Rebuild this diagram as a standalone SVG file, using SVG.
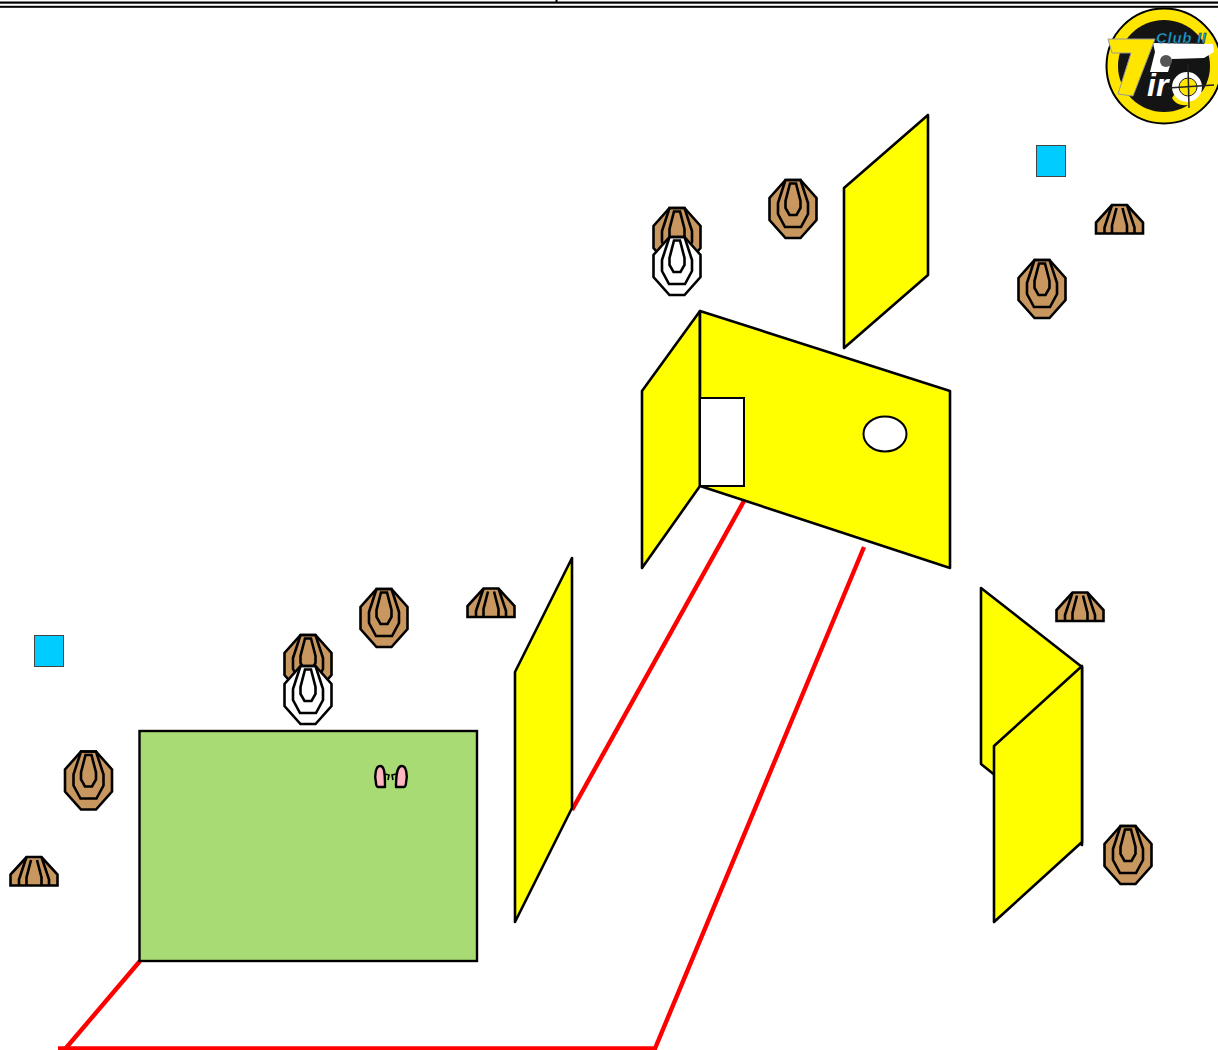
<svg xmlns="http://www.w3.org/2000/svg" width="1218" height="1050" viewBox="0 0 1218 1050">
<style>
.y{fill:#ff0;stroke:#000;stroke-width:2.6;stroke-linejoin:round}
.r{stroke:#f00;stroke-width:4.4;fill:none}
.t{stroke:#000;stroke-width:2.6;stroke-linejoin:miter}
.b{fill:#c8965f}.w{fill:#fff}
.c{fill:#00ccff;stroke:#444;stroke-width:1}
.n{fill:none}
.h{fill:#ffb6c1;stroke:#000;stroke-width:2.4;stroke-linejoin:round}
</style>
<defs>
<g id="ring"><polygon points="-7.500,-29 7.500,-29 23.500,-11 23.500,11 7.500,29 -7.500,29 -23.500,11 -23.500,-11"/><polygon class="n" points="-7.500,-29 7.500,-29 15,-6 15,5 8,18 -8,18 -15,5 -15,-6"/><polygon class="n" points="-3,-25.500 3,-25.500 7.500,-8 7.500,-1 3.500,6 -3.500,6 -7.500,-1 -7.500,-8"/></g>
<g id="half"><polygon points="-7.500,-28.500 7.500,-28.500 23.500,-11 23.500,0 -23.500,0 -23.500,-11"/><polyline class="n" points="-7.500,-28.500 -15,-6 -15,0"/><polyline class="n" points="7.500,-28.500 15,-6 15,0"/><polyline class="n" points="-3,-25.500 -7.500,-8 -7.500,0"/><polyline class="n" points="3,-25.500 7.500,-8 7.500,0"/></g>
</defs>
<g id="header"><rect x="0" y="1.500" width="1218" height="2.200" fill="#000"/><rect x="0" y="5.800" width="1218" height="2" fill="#000"/><rect x="555.500" y="0" width="2" height="2" fill="#000"/></g>
<g id="connectors">
<path class="r" d="M140,961 L66,1048"/>
<path class="r" d="M58,1048.500 L655,1048.500 L864,547"/>
<path class="r" d="M744,501 L572,810"/>
</g>
<g id="wall-top"><polygon class="y" points="844,188 928,115 928,275 844,348"/></g>
<g id="wall-house-side"><polygon class="y" points="642,391 700,311 700,486 642,568"/></g>
<g id="wall-house"><polygon class="y" points="700,311 950,391 950,568 700,486"/><rect x="700" y="398" width="44" height="88" fill="#fff" stroke="#000" stroke-width="2"/><ellipse cx="885" cy="434" rx="21.500" ry="17.500" fill="#fff" stroke="#000" stroke-width="2"/></g>
<g id="wall-mid"><polygon class="y" points="515,672 572,558 572,808 515,922"/></g>
<g id="wall-right-back"><polygon class="y" points="981,588 1082,667 1082,845 981,764"/></g>
<g id="wall-right-front"><polygon class="y" points="994,746 1082,666 1082,842 994,922"/></g>
<g id="green-area"><rect x="139.500" y="731" width="337.500" height="230" fill="#a9db74" stroke="#000" stroke-width="2.400"/></g>
<g id="hands">
<path class="h" d="M376,783 C374,775 376,766 380,766 C384,766 385,771 385,787 L378,787 C377,787 376,785 376,783 Z"/>
<path class="h" d="M406,783 C408,775 406,766 402,766 C398,766 396,771 396,787 L404,787 C405,787 406,785 406,783 Z"/>
<path d="M385,774 L389,775 L388,780 M396,774 L392,775 L393,780" fill="none" stroke="#000" stroke-width="1.600"/>
</g>
<g id="square-1"><rect class="c" x="1036.500" y="145.500" width="29" height="31"/></g>
<g id="square-2"><rect class="c" x="34.500" y="635.500" width="29" height="31"/></g>
<g id="target-1"><use href="#ring" x="793" y="209" class="t b"/></g>
<g id="target-2"><use href="#ring" x="677" y="237" class="t b"/></g>
<g id="target-3"><use href="#ring" x="1042" y="289" class="t b"/></g>
<g id="target-4"><use href="#ring" x="384" y="618" class="t b"/></g>
<g id="target-5"><use href="#ring" x="308" y="664" class="t b"/></g>
<g id="target-6"><use href="#ring" x="88.500" y="780.500" class="t b"/></g>
<g id="target-7"><use href="#ring" x="1128" y="855" class="t b"/></g>
<g id="noshoot-1"><use href="#ring" x="677" y="266" class="t w"/></g>
<g id="noshoot-2"><use href="#ring" x="308" y="695" class="t w"/></g>
<g id="half-1"><use href="#half" x="1119.500" y="233.500" class="t b"/></g>
<g id="half-2"><use href="#half" x="491" y="617" class="t b"/></g>
<g id="half-3"><use href="#half" x="1080" y="621" class="t b"/></g>
<g id="half-4"><use href="#half" x="34" y="885.500" class="t b"/></g>
<g id="logo">
<circle cx="1164" cy="66" r="57.500" fill="#ffe600" stroke="#000" stroke-width="2"/>
<circle cx="1164" cy="66" r="46" fill="#141414"/>
<polygon points="1153,43 1213,44 1214,52 1204,58 1172,59 1168,72 1150,72 1155,52" fill="#fff"/>
<circle cx="1166" cy="61" r="6" fill="#555"/>
<polygon points="1108,39 1155,39 1133,96 1118,94 1131,53 1112,53" fill="#ffe600" stroke="#999" stroke-width="1"/>
<path d="M1172,98 C1180,112 1200,104 1216,88 L1214,84 C1198,96 1184,100 1176,92 Z" fill="#ffe600"/>
<circle cx="1187" cy="87" r="15" fill="#fff"/>
<circle cx="1188" cy="87" r="9" fill="#ffe600" stroke="#222" stroke-width="1"/>
<path d="M1188,64 L1189,108 M1168,88 L1214,85" stroke="#222" stroke-width="1.500" fill="none"/>
<text x="1156" y="43" font-family="'Liberation Sans',sans-serif" font-size="15" font-weight="bold" font-style="italic" fill="#1fa7d8" stroke="#123" stroke-width="0.500" textLength="50">Club II</text>
<text x="1147" y="96" font-family="'Liberation Sans',sans-serif" font-size="32" font-weight="bold" font-style="italic" fill="#fff">ir</text>
</g>
</svg>
